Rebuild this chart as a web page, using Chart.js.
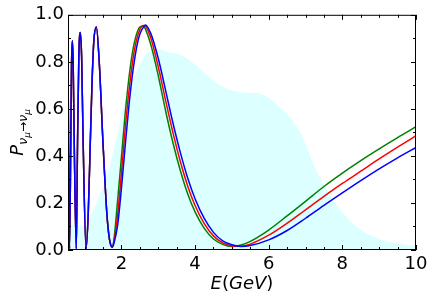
<!DOCTYPE html>
<html>
<head>
<meta charset="utf-8">
<script src="https://cdn.jsdelivr.net/npm/chart.js@4.4.1/dist/chart.umd.min.js"></script>
<style>
  html, body { margin: 0; padding: 0; background: #fff; }
  #wrap { width: 436px; height: 300px; }
</style>
</head>
<body>
<div id="wrap"><canvas id="chart" width="436" height="300"></canvas></div>
<script>
const energy = [0.55, 0.565, 0.59, 0.625, 0.645, 0.667, 0.69, 0.72, 0.775, 0.81, 0.845, 0.884, 0.92, 0.96,
  1.04, 1.1, 1.15, 1.2, 1.25, 1.32, 1.4, 1.5, 1.6, 1.65, 1.7, 1.75, 1.8, 1.9, 2.0, 2.1, 2.2, 2.3, 2.4, 2.5,
  2.6, 2.65, 2.8, 3.0, 3.2, 3.4, 3.6, 3.8, 4.0, 4.25, 4.5, 4.75, 5.0, 5.25, 5.5, 6.0, 6.5, 7.0, 7.5, 8.0,
  8.5, 9.0, 9.5, 10.0];

// low energy part, the three curves lie on top of each other
const probLow = [0.85, 0.45, 0.005, 0.45, 0.78, 0.89, 0.80, 0.45, 0.005, 0.47, 0.83, 0.925, 0.82, 0.47,
  0.005, 0.157, 0.427, 0.698, 0.885, 0.948, 0.794, 0.456, 0.166, 0.076, 0.027, 0.012];

const probBlue = probLow.concat([0.030, 0.108, 0.261, 0.437, 0.606, 0.745, 0.850, 0.917,
  0.948, 0.957, 0.920, 0.815, 0.679, 0.540, 0.415, 0.306, 0.218, 0.134, 0.075, 0.039, 0.022, 0.015, 0.019,
  0.043, 0.083, 0.135, 0.190, 0.243, 0.295, 0.345, 0.392, 0.436]);
const probRed = probLow.concat([0.038, 0.153, 0.326, 0.509, 0.668, 0.796, 0.886, 0.937,
  0.955, 0.952, 0.900, 0.780, 0.636, 0.499, 0.376, 0.272, 0.189, 0.112, 0.060, 0.030, 0.017, 0.016, 0.025,
  0.063, 0.114, 0.171, 0.228, 0.283, 0.335, 0.387, 0.437, 0.486]);
const probGreen = probLow.concat([0.048, 0.215, 0.393, 0.575, 0.726, 0.839, 0.912, 0.948,
  0.952, 0.940, 0.873, 0.742, 0.592, 0.456, 0.338, 0.239, 0.162, 0.092, 0.047, 0.024, 0.015, 0.021, 0.037,
  0.085, 0.145, 0.207, 0.270, 0.327, 0.380, 0.430, 0.478, 0.524]);

// flux shape drawn as the cyan band
const fluxEnergy = [0.55, 0.8, 1.0, 1.15, 1.3, 1.4, 1.55, 1.66, 1.78, 1.89, 2.0, 2.12, 2.25, 2.39, 2.5,
  2.66, 2.8, 2.95, 3.1, 3.3, 3.6, 3.9, 4.2, 4.5, 4.8, 5.1, 5.4, 5.7, 5.9, 6.1, 6.35, 6.6, 6.95, 7.2, 7.6,
  8.0, 8.5, 9.1, 9.6, 10.0];
const fluxShape = [0.11, 0.105, 0.10, 0.14, 0.19, 0.23, 0.29, 0.34, 0.42, 0.49, 0.575, 0.645, 0.70, 0.75,
  0.785, 0.83, 0.848, 0.855, 0.85, 0.84, 0.83, 0.80, 0.76, 0.72, 0.69, 0.675, 0.669, 0.667, 0.655, 0.635,
  0.60, 0.56, 0.47, 0.37, 0.25, 0.16, 0.085, 0.042, 0.025, 0.017];

const xTicks = [2, 4, 6, 8, 10];
const yTicks = [0, 0.2, 0.4, 0.6, 0.8, 1.0];
const xMinor = [1, 1.5, 2.5, 3, 3.5, 4.5, 5, 5.5, 6.5, 7, 7.5, 8.5, 9, 9.5];
const yMinor = [0.1, 0.3, 0.5, 0.7, 0.9];

const FONT = "'DejaVu Sans', sans-serif";

const pts = (xs, ys) => xs.map((x, i) => ({x: x, y: ys[i]}));

function curve(label, color, ys, order) {
    return {
        label: label,
        data: pts(energy, ys),
        borderColor: color,
        borderWidth: 1.5,
        pointRadius: 0,
        fill: false,
        cubicInterpolationMode: 'monotone',
        order: order
    };
}

const frame = {
    id: 'frame',
    afterDatasetsDraw(chart) {
        const {ctx, chartArea: a, scales} = chart;
        ctx.save();
        ctx.strokeStyle = '#000';
        ctx.lineWidth = 1;
        ctx.strokeRect(a.left + 0.5, a.top + 0.5, a.right - a.left - 1, a.bottom - a.top - 1);
        ctx.beginPath();
        const tx = (v, len) => {
            const p = Math.round(scales.x.getPixelForValue(v)) + 0.5;
            ctx.moveTo(p, a.bottom); ctx.lineTo(p, a.bottom - len);
            ctx.moveTo(p, a.top); ctx.lineTo(p, a.top + len);
        };
        const ty = (v, len) => {
            const p = Math.round(scales.y.getPixelForValue(v)) + 0.5;
            ctx.moveTo(a.left, p); ctx.lineTo(a.left + len, p);
            ctx.moveTo(a.right, p); ctx.lineTo(a.right - len, p);
        };
        xTicks.forEach(v => tx(v, 5));
        xMinor.forEach(v => tx(v, 3));
        yTicks.forEach(v => ty(v, 5));
        yMinor.forEach(v => ty(v, 3));
        ctx.stroke();
        ctx.restore();
    }
};

function drawPieces(ctx, pieces, x, y) {
    let cx = x;
    pieces.forEach(p => {
        ctx.font = p.font;
        ctx.fillText(p.t, cx, y + (p.dy || 0));
        cx += ctx.measureText(p.t).width;
    });
}
function piecesWidth(ctx, pieces) {
    let w = 0;
    pieces.forEach(p => { ctx.font = p.font; w += ctx.measureText(p.t).width; });
    return w;
}

const axisTitles = {
    id: 'axisTitles',
    afterDraw(chart) {
        const {ctx, chartArea: a} = chart;
        ctx.save();
        ctx.fillStyle = '#000';
        ctx.textBaseline = 'alphabetic';
        ctx.textAlign = 'left';

        const xl = [
            {t: 'E', font: 'italic 18px ' + FONT},
            {t: '(', font: '18px ' + FONT},
            {t: 'GeV', font: 'italic 18px ' + FONT},
            {t: ')', font: '18px ' + FONT}
        ];
        const wx = piecesWidth(ctx, xl);
        drawPieces(ctx, xl, (a.left + a.right) / 2 - wx / 2, 289);

        const yl = [
            {t: 'P', font: 'italic 18px ' + FONT},
            {t: 'ν', font: 'italic 13px ' + FONT, dy: 4},
            {t: 'μ', font: 'italic 9px ' + FONT, dy: 7},
            {t: '→', font: '12px ' + FONT, dy: 4},
            {t: 'ν', font: 'italic 13px ' + FONT, dy: 4},
            {t: 'μ', font: 'italic 9px ' + FONT, dy: 7}
        ];
        const wy = piecesWidth(ctx, yl);
        ctx.translate(23, (a.top + a.bottom) / 2);
        ctx.rotate(-Math.PI / 2);
        drawPieces(ctx, yl, -wy / 2, 0);
        ctx.restore();
    }
};

new Chart(document.getElementById('chart'), {
    type: 'line',
    data: {
        datasets: [
            curve('blue', '#0000ff', probBlue, 1),
            curve('red', '#ff0000', probRed, 2),
            curve('green', '#008000', probGreen, 3),
            {
                label: 'flux',
                data: pts(fluxEnergy, fluxShape),
                borderWidth: 0,
                borderColor: 'rgba(0,0,0,0)',
                backgroundColor: '#dcffff',
                pointRadius: 0,
                fill: 'origin',
                cubicInterpolationMode: 'monotone',
                order: 10
            }
        ]
    },
    options: {
        responsive: false,
        animation: false,
        devicePixelRatio: 1,
        layout: {padding: {top: 13, right: 20, left: 0, bottom: 0}},
        plugins: {legend: {display: false}, tooltip: {enabled: false}},
        scales: {
            x: {
                type: 'linear',
                min: 0.55,
                max: 10,
                grid: {display: false, drawTicks: false},
                border: {display: false},
                afterBuildTicks: s => { s.ticks = xTicks.map(v => ({value: v})); },
                afterFit: s => { s.height = 50; },
                ticks: {
                    padding: 4,
                    color: '#000',
                    font: {family: FONT, size: 18},
                    maxRotation: 0,
                    callback: v => String(v)
                }
            },
            y: {
                type: 'linear',
                min: 0,
                max: 1,
                grid: {display: false, drawTicks: false},
                border: {display: false},
                afterBuildTicks: s => { s.ticks = yTicks.map(v => ({value: v})); },
                afterFit: s => { s.width = 68; },
                ticks: {
                    padding: 4,
                    color: '#000',
                    font: {family: FONT, size: 18},
                    callback: v => v.toFixed(1)
                }
            }
        }
    },
    plugins: [frame, axisTitles]
});
</script>
</body>
</html>
